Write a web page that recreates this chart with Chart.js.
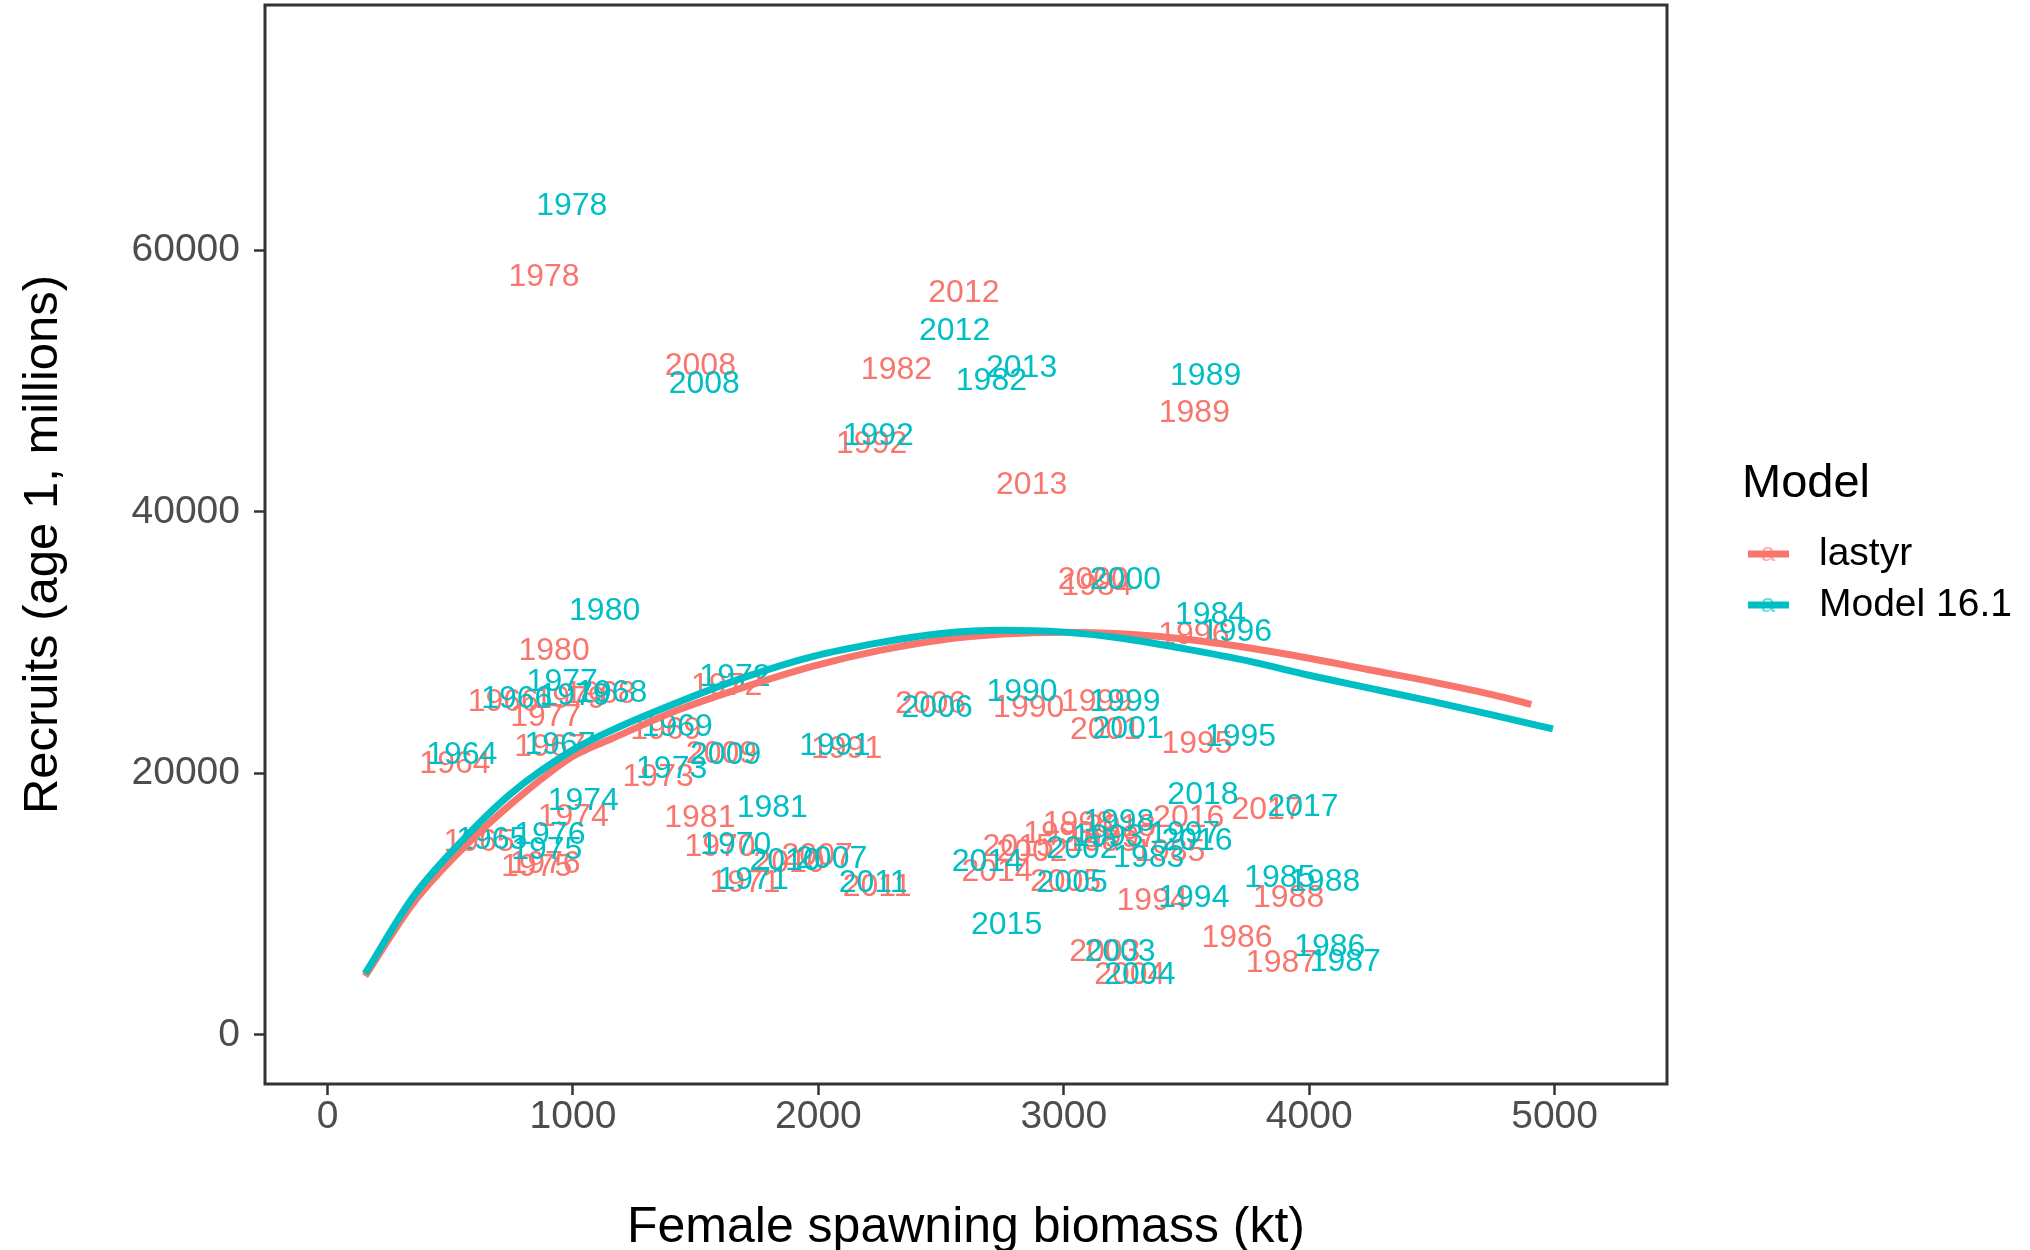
<!DOCTYPE html>
<html><head><meta charset="utf-8">
<script src="https://cdn.jsdelivr.net/npm/chart.js@4"></script>
<style>html,body{margin:0;padding:0;background:#fff}canvas{display:block}</style>
</head><body>
<canvas id="c" width="2030" height="1250"></canvas>
<script>
const years = [1964,1965,1966,1967,1968,1969,1970,1971,1972,1973,1974,1975,1976,1977,1978,1979,1980,1981,1982,1983,1984,1985,1986,1987,1988,1989,1990,1991,1992,1993,1994,1995,1996,1997,1998,1999,2000,2001,2002,2003,2004,2005,2006,2007,2008,2009,2010,2011,2012,2013,2014,2015,2016,2017,2018];

const lastyrSSB = [519,617,716,906,1110,1378,1599,1701,1626,1347,1001,852,886,889,882,988,923,1517,2318,3154,3135,3432,3706,3887,3916,3532,2857,2115,2217,2980,3360,3543,3530,3235,3059,3133,3120,3170,2870,3167,3269,3007,2457,1995,1519,1605,1880,2239,2593,2869,2728,2814,3509,3828,3230];
const lastyrRec = [20939,14908,25649,22214,26237,23489,14580,11779,26870,19924,16870,13053,13282,24504,58168,25878,29573,16740,51045,14962,34550,14198,7580,5672,10634,47710,25214,22038,45370,15550,10458,22466,30740,15213,16336,25649,34950,23489,14200,6565,4786,11908,25519,13862,51313,21700,13350,11473,56893,42221,12618,14580,16740,17382,16100];

const m161SSB = [547,669,771,947,1158,1425,1663,1734,1660,1402,1042,893,906,956,995,1008,1129,1812,2705,3346,3598,3880,4084,4147,4063,3578,2830,2067,2244,3180,3530,3720,3704,3493,3224,3249,3251,3262,3074,3229,3310,3034,2484,2054,1535,1622,1864,2223,2555,2828,2688,2767,3543,3975,3567];
const m161Rec = [21580,15092,25855,22344,26359,23740,14710,12038,27557,20557,18092,14328,15473,27176,63565,26107,32634,17504,50206,13687,32267,12160,6947,5802,11908,50534,26412,22290,45954,15344,10634,22977,30992,15550,16489,25649,34939,23565,14405,6565,4786,11779,25214,13641,49931,21580,13511,11779,54020,51198,13382,8603,15000,17634,18527];

const curveSSB_lastyr = [153,350,553,750,1000,1164,1436,1707,1979,2250,2500,2750,3000,3250,3500,3750,4000,4250,4500,4750,4905];
const curveRec_lastyr = [4500,10100,14300,17700,21300,22700,24900,26650,28200,29400,30200,30650,30800,30650,30250,29600,28800,27900,27000,26000,25270];
const curveSSB_m161 = [153,350,553,750,1000,1164,1436,1707,1979,2250,2500,2750,3000,3250,3500,3750,4000,4250,4500,4750,4993];
const curveRec_m161 = [4700,10600,14950,18500,21800,23350,25500,27400,28950,30000,30700,30950,30800,30300,29500,28600,27500,26500,25500,24450,23400];

const xTicks = [0,1000,2000,3000,4000,5000];
const yTicks = [0,20000,40000,60000];
const seriesNames = ['lastyr','Model 16.1'];
const seriesColors = ['#F8766D','#00BFC4'];
const xTitle = 'Female spawning biomass (kt)';
const yTitle = 'Recruits (age 1, millions)';
const legendTitle = 'Model';

const FONT = '"Liberation Sans", Arial, Helvetica, sans-serif';
const pts = (xs, ys) => xs.map((x, i) => ({x: x, y: ys[i]}));

const textLabels = {
  id: 'textLabels',
  beforeDatasetsDraw(chart) {
    const ctx = chart.ctx, a = chart.chartArea;
    ctx.save();
    ctx.beginPath(); ctx.rect(a.left, a.top, a.right - a.left, a.bottom - a.top); ctx.clip();
    const fs = 32;
    ctx.font = fs + 'px ' + FONT;
    ctx.textAlign = 'center'; ctx.textBaseline = 'alphabetic';
    chart.data.datasets.forEach((ds, i) => {
      if (ds.kind !== 'text') return;
      const meta = chart.getDatasetMeta(i);
      ctx.fillStyle = ds.textColor;
      meta.data.forEach((el, j) => {
        ctx.fillText(String(ds.labels[j]), el.x, el.y + fs * 0.358);
      });
    });
    ctx.restore();
  }
};

const frame = {
  id: 'frame',
  afterDraw(chart) {
    const ctx = chart.ctx, a = chart.chartArea;
    ctx.save();
    ctx.strokeStyle = '#333333'; ctx.lineWidth = 3;
    ctx.strokeRect(a.left, a.top, a.right - a.left, a.bottom - a.top);
    ctx.fillStyle = '#000';
    ctx.font = '50px ' + FONT;
    ctx.textAlign = 'center'; ctx.textBaseline = 'alphabetic';
    ctx.fillText(xTitle, (a.left + a.right) / 2, 1242);
    ctx.save();
    ctx.translate(57, (a.top + a.bottom) / 2);
    ctx.rotate(-Math.PI / 2);
    ctx.font = '49px ' + FONT;
    ctx.fillText(yTitle, 0, 0);
    ctx.restore();
    ctx.textAlign = 'left';
    ctx.font = '47px ' + FONT;
    ctx.fillText(legendTitle, 1742, 497);
    const keyY = [554, 605];
    seriesNames.forEach((n, i) => {
      ctx.strokeStyle = seriesColors[i]; ctx.lineWidth = 7; ctx.lineCap = 'butt';
      ctx.beginPath(); ctx.moveTo(1748, keyY[i]); ctx.lineTo(1789, keyY[i]); ctx.stroke();
      ctx.fillStyle = seriesColors[i];
      ctx.globalAlpha = 0.6;
      ctx.font = '26px ' + FONT; ctx.textAlign = 'center'; ctx.textBaseline = 'middle';
      ctx.fillText('a', 1768, keyY[i]);
      ctx.globalAlpha = 1;
      ctx.fillStyle = '#000'; ctx.textAlign = 'left';
      ctx.font = '39px ' + FONT;
      ctx.fillText(n, 1819, keyY[i]);
    });
    ctx.restore();
  }
};

new Chart(document.getElementById('c'), {
  type: 'scatter',
  data: {
    datasets: [
      {type: 'line', label: seriesNames[1], data: pts(curveSSB_m161, curveRec_m161), borderColor: seriesColors[1], borderWidth: 7, pointRadius: 0, cubicInterpolationMode: 'monotone', borderCapStyle: 'butt', fill: false},
      {type: 'line', label: seriesNames[0], data: pts(curveSSB_lastyr, curveRec_lastyr), borderColor: seriesColors[0], borderWidth: 7, pointRadius: 0, cubicInterpolationMode: 'monotone', borderCapStyle: 'butt', fill: false},
      {type: 'scatter', kind: 'text', labels: years, textColor: seriesColors[0], data: pts(lastyrSSB, lastyrRec), pointRadius: 0, borderWidth: 0},
      {type: 'scatter', kind: 'text', labels: years, textColor: seriesColors[1], data: pts(m161SSB, m161Rec), pointRadius: 0, borderWidth: 0}
    ]
  },
  options: {
    responsive: false, animation: false, devicePixelRatio: 1,
    layout: {padding: {left: 0, top: 5, right: 363, bottom: 0}},
    plugins: {legend: {display: false}, tooltip: {enabled: false}},
    events: [],
    scales: {
      x: {
        type: 'linear', min: -255, max: 5458,
        afterBuildTicks: s => { s.ticks = xTicks.map(v => ({value: v})); },
        afterFit: s => { s.height = 166; s.paddingLeft = 0; s.paddingRight = 0; },
        border: {display: false},
        grid: {display: true, drawOnChartArea: false, drawTicks: true, tickLength: 11, tickColor: '#333333', tickWidth: 2.5},
        ticks: {font: {family: FONT, size: 39}, color: '#4D4D4D', padding: -1, maxRotation: 0, autoSkip: false, callback: v => String(v)}
      },
      y: {
        type: 'linear', min: -3750, max: 78750,
        afterBuildTicks: s => { s.ticks = yTicks.map(v => ({value: v})); },
        afterFit: s => { s.width = 265; s.paddingTop = 0; s.paddingBottom = 0; },
        border: {display: false},
        grid: {display: true, drawOnChartArea: false, drawTicks: true, tickLength: 11, tickColor: '#333333', tickWidth: 2.5},
        ticks: {font: {family: FONT, size: 39}, color: '#4D4D4D', padding: 14, autoSkip: false, callback: v => String(v)}
      }
    }
  },
  plugins: [textLabels, frame]
});
</script>
</body></html>
